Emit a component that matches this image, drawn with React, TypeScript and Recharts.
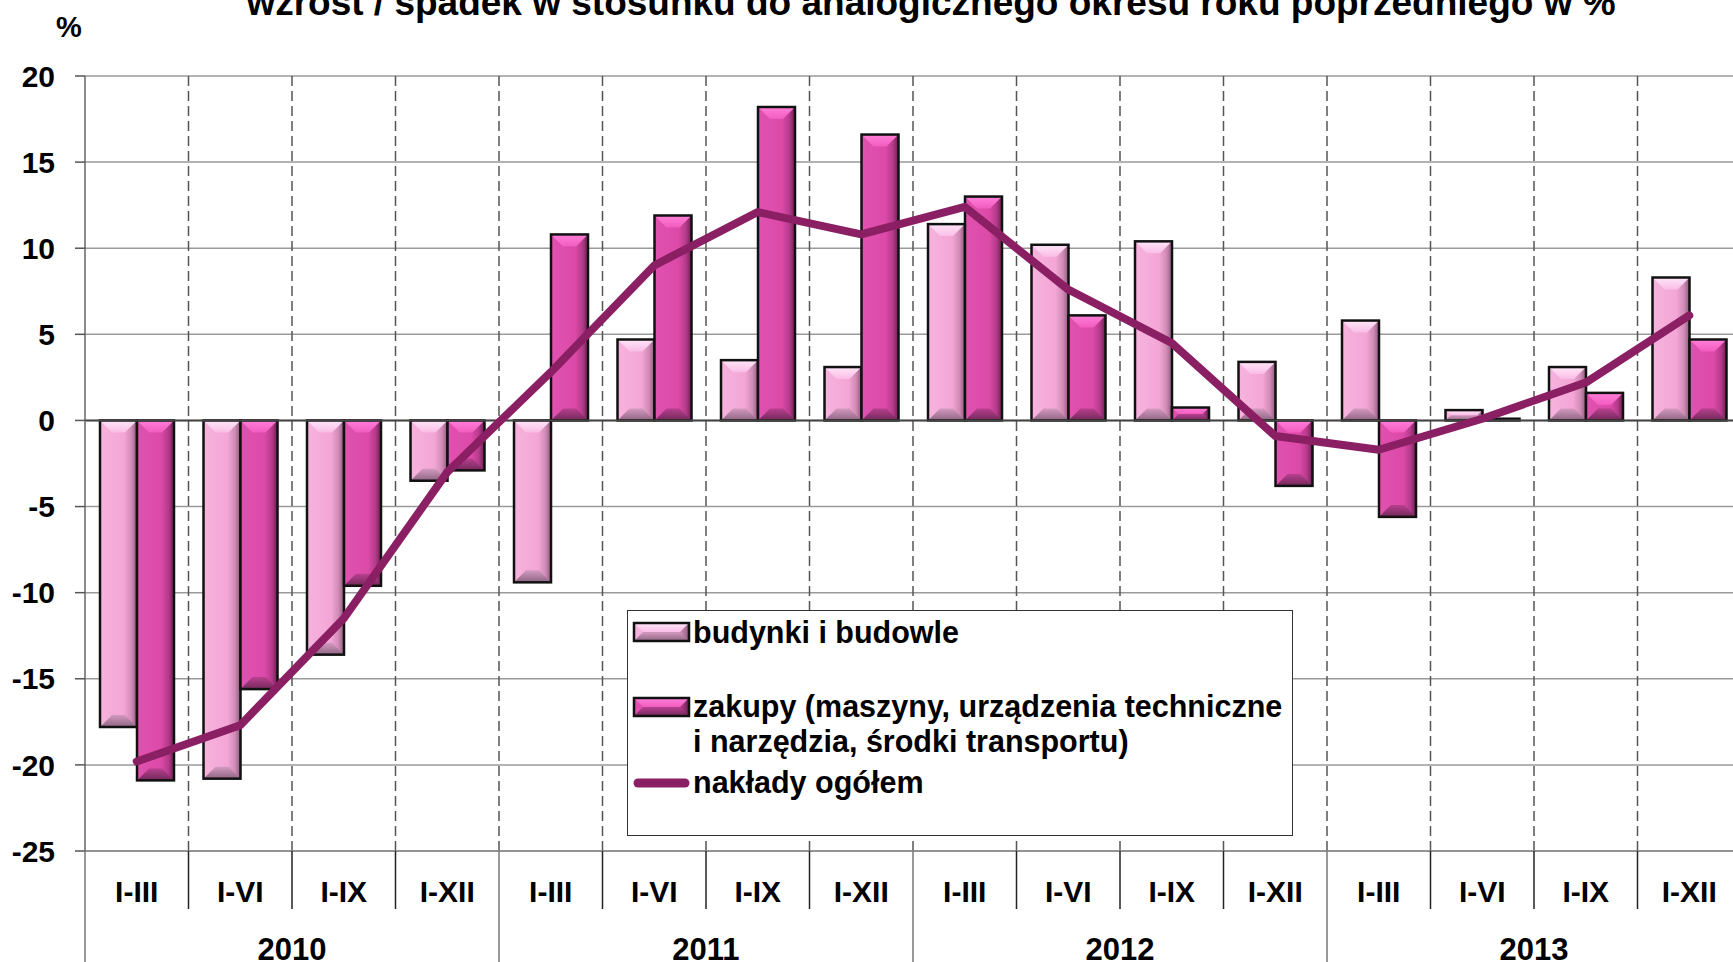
import React from 'react';
import {
  ComposedChart,
  Bar,
  Line,
  XAxis,
  YAxis,
  CartesianGrid,
  ReferenceLine,
  Legend,
} from 'recharts';

const quarters = [
  'I-III', 'I-VI', 'I-IX', 'I-XII',
  'I-III', 'I-VI', 'I-IX', 'I-XII',
  'I-III', 'I-VI', 'I-IX', 'I-XII',
  'I-III', 'I-VI', 'I-IX', 'I-XII',
];
const years = ['2010', '2011', '2012', '2013'];

const budynki = [-17.8, -20.8, -13.6, -3.5, -9.4, 4.7, 3.5, 3.1, 11.4, 10.2, 10.4, 3.4, 5.8, 0.6, 3.1, 8.3];
const zakupy = [-20.9, -15.6, -9.6, -2.9, 10.8, 11.9, 18.2, 16.6, 13.0, 6.1, 0.75, -3.8, -5.6, 0.1, 1.6, 4.7];
const ogolem = [-19.8, -17.7, -11.5, -3.0, 2.8, 9.0, 12.1, 10.8, 12.4, 7.6, 4.5, -0.9, -1.7, 0.1, 2.2, 6.1];

const yTicks = [-25, -20, -15, -10, -5, 0, 5, 10, 15, 20];
const boundaries = [1, 2, 3, 4, 5, 6, 7, 8, 9, 10, 11, 12, 13, 14, 15];

const data = quarters.map((q, i) => ({
  q,
  year: years[Math.floor(i / 4)],
  budynki: budynki[i],
  zakupy: zakupy[i],
  ogolem: ogolem[i],
}));

const FONT = '"Liberation Sans", Arial, sans-serif';
const CHART_W = 1745;
const CHART_H = 962;
const Y_AXIS_W = 85;
const RIGHT = 4;
const BAND = (CHART_W - Y_AXIS_W - RIGHT) / quarters.length;
const LINE_COLOR = '#8b1f63';

function BevelBar(props: any) {
  const { x, y, width, height, kind } = props;
  if (width == null || height == null || isNaN(y)) return null;
  const top = Math.min(y, y + height);
  const h = Math.abs(height);
  const w = width;
  const b = Math.min(12, h / 2, w / 2);
  const id = kind === 'light' ? 'Light' : 'Dark';
  return (
    <g>
      <rect x={x} y={top} width={w} height={h} fill={`url(#g${id})`} />
      <polygon
        points={`${x},${top} ${x + w},${top} ${x + w - b},${top + b} ${x + b},${top + b}`}
        fill={`url(#g${id}Top)`}
      />
      <polygon
        points={`${x},${top + h} ${x + w},${top + h} ${x + w - b},${top + h - b} ${x + b},${top + h - b}`}
        fill={`url(#g${id}Bot)`}
      />
      <rect x={x} y={top} width={w} height={h} fill="none" stroke="#111" strokeWidth={2.5} />
    </g>
  );
}

function QuarterTick(props: any) {
  const { x, y, payload, index } = props;
  const i = index ?? payload.index;
  const left = x - BAND / 2;
  const yearStart = i % 4 === 0;
  return (
    <g>
      <line
        x1={left}
        x2={left}
        y1={y}
        y2={yearStart ? y + 120 : y + 58}
        stroke={yearStart ? '#777' : '#222'}
        strokeWidth={1.5}
      />
      <text x={x} y={y + 51} textAnchor="middle" fontSize={30} fontWeight="bold" fill="#000" fontFamily={FONT}>
        {payload.value}
      </text>
      {i % 4 === 1 && (
        <text x={x + BAND / 2} y={y + 109} textAnchor="middle" fontSize={31} fontWeight="bold" fill="#000" fontFamily={FONT}>
          {data[i].year}
        </text>
      )}
    </g>
  );
}

function LegendBox() {
  const txt = { fontSize: 30.5, fontWeight: 'bold' as const, fill: '#000', fontFamily: FONT };
  return (
    <svg width={664} height={224} style={{ display: 'block' }}>
      <BevelBar x={6} y={12} width={55} height={18} kind="light" />
      <text x={65} y={32} {...txt}>budynki i budowle</text>
      <BevelBar x={6} y={87} width={55} height={18} kind="dark" />
      <text x={65} y={106} {...txt}>zakupy (maszyny, urządzenia techniczne</text>
      <text x={65} y={141} {...txt}>i narzędzia, środki transportu)</text>
      <line x1={10} x2={57} y1={172} y2={172} stroke={LINE_COLOR} strokeWidth={9} strokeLinecap="round" />
      <text x={65} y={182} {...txt}>nakłady ogółem</text>
    </svg>
  );
}

export default function App() {
  return (
    <div
      style={{
        position: 'fixed',
        left: 0,
        top: 0,
        width: 1733,
        height: 962,
        overflow: 'hidden',
        background: '#fff',
      }}
    >
      <ComposedChart
        width={CHART_W}
        height={CHART_H}
        data={data}
        margin={{ top: 76, right: RIGHT, left: 0, bottom: 0 }}
        barCategoryGap="14.5%"
        barGap={0}
        style={{ fontFamily: FONT }}
      >
        <defs>
          <linearGradient id="gLight" x1="0" y1="0" x2="1" y2="0">
            <stop offset="0" stopColor="#f6b3de" />
            <stop offset="0.65" stopColor="#f4a6d6" />
            <stop offset="0.85" stopColor="#d08bb6" />
            <stop offset="1" stopColor="#8c5a7b" />
          </linearGradient>
          <linearGradient id="gDark" x1="0" y1="0" x2="1" y2="0">
            <stop offset="0" stopColor="#e052b0" />
            <stop offset="0.65" stopColor="#dc4aa8" />
            <stop offset="0.85" stopColor="#b53a8b" />
            <stop offset="1" stopColor="#6a2150" />
          </linearGradient>
          <linearGradient id="gLightTop" x1="0" y1="0" x2="0" y2="1">
            <stop offset="0" stopColor="#ffe6f8" />
            <stop offset="1" stopColor="#f9bde6" />
          </linearGradient>
          <linearGradient id="gDarkTop" x1="0" y1="0" x2="0" y2="1">
            <stop offset="0" stopColor="#ff7fd8" />
            <stop offset="1" stopColor="#f25cc0" />
          </linearGradient>
          <linearGradient id="gLightBot" x1="0" y1="0" x2="0" y2="1">
            <stop offset="0" stopColor="#d49ac0" />
            <stop offset="1" stopColor="#8f6583" />
          </linearGradient>
          <linearGradient id="gDarkBot" x1="0" y1="0" x2="0" y2="1">
            <stop offset="0" stopColor="#b8408f" />
            <stop offset="1" stopColor="#73285a" />
          </linearGradient>
        </defs>

        <text x={931} y={15} textAnchor="middle" fontSize={37} fontWeight="bold" fill="#000" fontFamily={FONT}>
          wzrost / spadek w stosunku do analogicznego okresu roku poprzedniego w %
        </text>
        <text x={69} y={37} textAnchor="middle" fontSize={29} fontWeight="bold" fill="#000" fontFamily={FONT}>
          %
        </text>

        <CartesianGrid vertical={false} stroke="#9a9a9a" strokeWidth={1.5} />
        <CartesianGrid
          horizontal={false}
          verticalPoints={boundaries.map((b) => Y_AXIS_W + b * BAND)}
          stroke="#555"
          strokeWidth={1.5}
          strokeDasharray="10 5"
        />
        <XAxis
          dataKey="q"
          interval={0}
          height={CHART_H - 76 - 775}
          tickSize={0}
          tickMargin={0}
          tickLine={false}
          axisLine={{ stroke: '#888', strokeWidth: 1.5 }}
          tick={(p: any) => <QuarterTick {...p} />}
        />
        <YAxis
          width={Y_AXIS_W}
          domain={[-25, 20]}
          ticks={yTicks}
          interval={0}
          tickSize={10}
          tickMargin={20}
          tickLine={{ stroke: '#555', strokeWidth: 1.5 }}
          axisLine={{ stroke: '#666', strokeWidth: 1.5 }}
          tick={{ fontSize: 30, fontWeight: 'bold', fill: '#000', fontFamily: FONT }}
          allowDataOverflow
        />
        <ReferenceLine y={0} stroke="#444" strokeWidth={2} />
        <Legend
          layout="vertical"
          align="center"
          verticalAlign="middle"
          content={() => <LegendBox />}
          wrapperStyle={{
            position: 'absolute',
            left: 627,
            top: 610,
            width: 666,
            height: 226,
            border: '1.5px solid #333',
            background: '#fff',
            boxSizing: 'border-box',
          }}
        />
        <Bar
          dataKey="budynki"
          name="budynki i budowle"
          isAnimationActive={false}
          shape={(p: any) => <BevelBar {...p} kind="light" />}
        />
        <Bar
          dataKey="zakupy"
          name="zakupy (maszyny, urządzenia techniczne i narzędzia, środki transportu)"
          isAnimationActive={false}
          shape={(p: any) => <BevelBar {...p} kind="dark" />}
        />
        <Line
          dataKey="ogolem"
          name="nakłady ogółem"
          type="linear"
          stroke={LINE_COLOR}
          strokeWidth={8}
          strokeLinecap="round"
          strokeLinejoin="round"
          dot={false}
          activeDot={false}
          isAnimationActive={false}
        />
      </ComposedChart>
    </div>
  );
}
